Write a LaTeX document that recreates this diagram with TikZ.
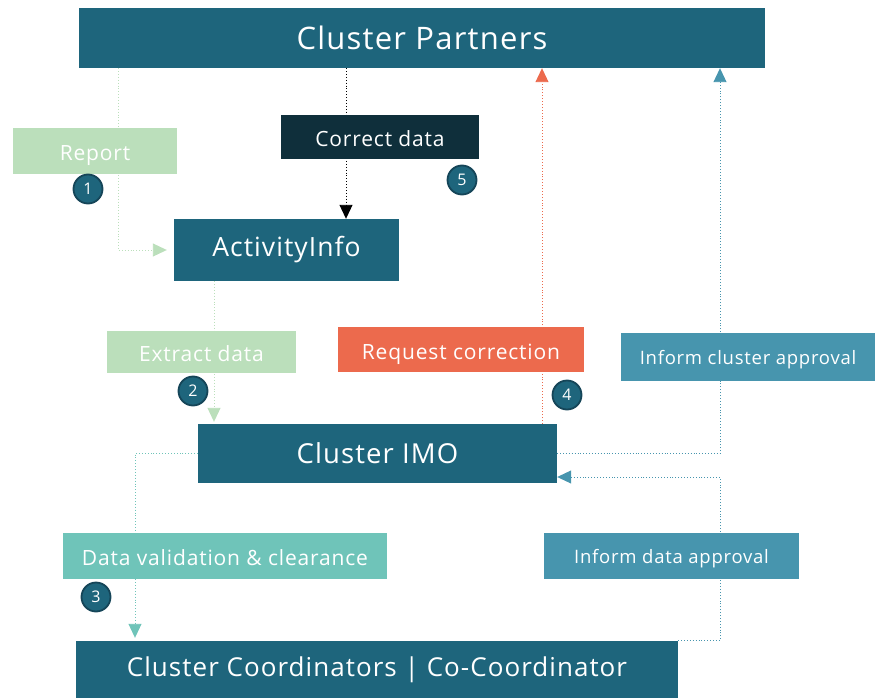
\documentclass[tikz,border=0pt]{standalone}
\usepackage{fontspec}
\setmainfont{Open Sans}[LetterSpace=4]
\usepackage{xcolor}
\usepackage{tikz}
\usetikzlibrary{arrows.meta, positioning}
\definecolor{teal}{RGB}{30,101,124}
\definecolor{navy}{RGB}{15,47,59}
\definecolor{mint}{RGB}{187,223,187}
\definecolor{coral}{RGB}{236,106,77}
\definecolor{steel}{RGB}{71,149,174}
\definecolor{aqua}{RGB}{111,196,185}
\definecolor{ring}{RGB}{21,69,88}
\tikzstyle{actor} = [rectangle, inner sep=0pt, text centered, fill=teal, text=white]
\tikzstyle{stepbox} = [rectangle, inner sep=0pt, text centered, text=white, text height=19.5pt, text depth=0pt]
\tikzstyle{num} = [circle, minimum size=29pt, inner sep=0pt, fill=teal, draw=ring, line width=1.8pt, text=white, font=\fontsize{16}{17}\selectfont]
\tikzstyle{arrow} = [dotted, line width=0.9pt, -{Triangle[length=14pt, width=13pt]}]

\begin{document}
\begin{tikzpicture}[x=1pt, y=-1pt]
\useasboundingbox (0,0) rectangle (875,698);
% Nodes
\node (partners) [actor, minimum width=686pt, minimum height=60pt, font=\fontsize{31}{33}\selectfont] at (422,38) {Cluster Partners};
\node (activity) [actor, minimum width=225pt, minimum height=62pt, font=\fontsize{26.5}{28}\selectfont] at (286.5,250) {ActivityInfo};
\node (imo) [actor, minimum width=359pt, minimum height=59pt, font=\fontsize{27.5}{29}\selectfont] at (377.5,453.5) {Cluster IMO};
\node (coord) [actor, minimum width=602pt, minimum height=57pt, font=\fontsize{26}{28}\selectfont] at (377,669.5) {Cluster Coordinators | Co-Coordinator};

\coordinate (rx) at ([xshift=-304pt]partners.south);
\coordinate (cx) at ([xshift=59.5pt]activity.north);
\coordinate (ex) at ([xshift=-72.5pt]activity.south);
\coordinate (qx) at ([xshift=164.5pt]imo.north);
\coordinate (ax) at ([xshift=298pt]partners.south);
\coordinate (vx) at ([xshift=-242pt]coord.north);

% Paths
\draw [arrow, mint, shorten >=7pt] (rx) |- (activity.west);
\draw [arrow, black] (cx |- partners.south) -- (cx);
\draw [arrow, mint, shorten >=2pt] (ex) -- (ex |- imo.north);
\draw [arrow, coral] (qx) -- (qx |- partners.south);
\draw [arrow, steel] (imo.east) -| (ax);
\draw [arrow, steel] (coord.north east) -| ([yshift=-23.5pt]imo.east -| ax) -- ([yshift=-23.5pt]imo.east);
\draw [arrow, aqua, shorten >=3pt] (imo.west) -| (vx);

% Labels
\node (report) [stepbox, fill=mint, minimum width=164pt, minimum height=46pt, font=\fontsize{21}{23}\selectfont] at (95,151) {Report};
\node (correct) [stepbox, fill=navy, minimum width=198pt, minimum height=44pt, font=\fontsize{21}{23}\selectfont] at (380,137) {Correct data};
\node (extract) [stepbox, fill=mint, minimum width=189pt, minimum height=42pt, font=\fontsize{21}{23}\selectfont] at (201.5,352) {Extract data};
\node (request) [stepbox, fill=coral, minimum width=246pt, minimum height=45pt, font=\fontsize{21}{23}\selectfont] at (461,349.5) {Request correction};
\node (informc) [stepbox, fill=steel, minimum width=254pt, minimum height=48pt, text height=15pt, font=\fontsize{18.5}{20}\selectfont] at (748,357) {Inform cluster approval};
\node (valid) [stepbox, fill=aqua, minimum width=324pt, minimum height=46pt, font=\fontsize{21}{23}\selectfont] at (225,556) {Data validation \& clearance};
\node (informd) [stepbox, fill=steel, minimum width=255pt, minimum height=46pt, text height=15pt, font=\fontsize{18.5}{20}\selectfont] at (671.5,556) {Inform data approval};

% Numbers
\node (n1) [num] at (88,189) {1};
\node (n2) [num] at (193,391) {2};
\node (n3) [num] at (96,597) {3};
\node (n4) [num] at (567,395) {4};
\node (n5) [num] at (462,180) {5};
\end{tikzpicture}
\end{document}
